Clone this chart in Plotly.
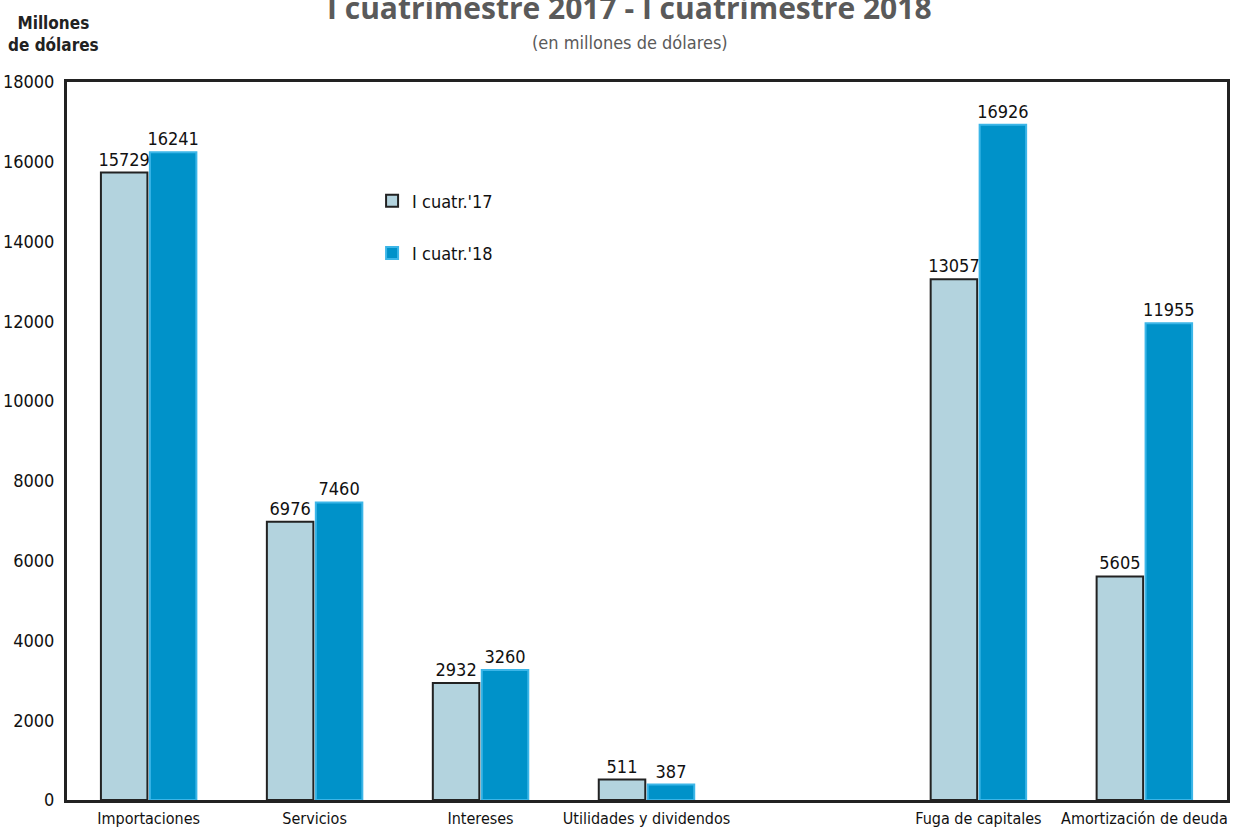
import plotly.graph_objects as go

# Categories (an empty slot separates the two blocks)
positions = [0, 1, 2, 3, 5, 6]
labels = ["Importaciones", "Servicios", "Intereses", "Utilidades y dividendos",
          "Fuga de capitales", "Amortización de deuda"]
cuatr_17 = [15729, 6976, 2932, 511, 13057, 5605]
cuatr_18 = [16241, 7460, 3260, 387, 16926, 11955]
y_ticks = list(range(0, 18001, 2000))

NARROW = "DejaVu Sans Condensed, Liberation Sans Narrow, Roboto, sans-serif"

fig = go.Figure()
fig.add_trace(go.Bar(
    x=positions, y=cuatr_17, name="I cuatr.'17", legendgroup="a",
    marker=dict(color="#b3d3de", line=dict(color="#222222", width=2)),
    text=cuatr_17, textposition="outside", cliponaxis=False, constraintext="none",
    textfont=dict(family=NARROW, size=18, color="#111111"),
))
fig.add_trace(go.Bar(
    x=positions, y=cuatr_18, name="I cuatr.'18", legendgroup="b",
    marker=dict(color="#0092c9", line=dict(color="#3cb6e8", width=2)),
    text=cuatr_18, textposition="outside", cliponaxis=False, constraintext="none",
    textfont=dict(family=NARROW, size=18, color="#111111"),
))

fig.update_layout(
    width=1246, height=829,
    margin=dict(l=67, r=19, t=82, b=29),
    paper_bgcolor="white", plot_bgcolor="white",
    barmode="group", bargap=0.41, bargroupgap=0.05,
    font=dict(family=NARROW, size=18, color="#111111"),
    showlegend=True,
    legend=dict(x=0.263, y=0.86, xanchor="left", yanchor="top",
                bgcolor="rgba(0,0,0,0)", tracegroupgap=26,
                font=dict(family=NARROW, size=18, color="#111111"),
                itemwidth=30),
    xaxis=dict(range=[-0.492, 6.498], tickmode="array", tickvals=positions, ticktext=labels,
               showgrid=False, zeroline=False, showline=True, linecolor="#222222",
               linewidth=3, mirror=True, ticks="", automargin=False, tickangle=0,
               ticklabelstandoff=2, tickfont=dict(family=NARROW, size=16)),
    yaxis=dict(range=[0, 18000], tickmode="array", tickvals=y_ticks,
               ticktext=[str(v) for v in y_ticks],
               showgrid=False, zeroline=False, showline=True, linecolor="#222222",
               linewidth=3, mirror=True, ticks="", ticklabelstandoff=6, automargin=False,
               tickfont=dict(family=NARROW, size=18)),
    annotations=[
        dict(text="I cuatrimestre 2017 - I cuatrimestre 2018", xref="paper", yref="paper",
             x=0.485, y=1.0, yshift=75, xanchor="center", yanchor="middle", showarrow=False,
             font=dict(family="Open Sans, sans-serif", size=30, color="#5a5a5a", weight="bold")),
        dict(text="(en millones de dólares)", xref="paper", yref="paper",
             x=0.485, y=1.0, yshift=40, xanchor="center", yanchor="middle", showarrow=False,
             font=dict(family=NARROW, size=18, color="#5a5a5a")),
        dict(text="<b>Millones<br>de dólares</b>", xref="paper", yref="paper",
             x=-0.012, y=1.0, yshift=48, xanchor="center", yanchor="middle", showarrow=False,
             align="center", font=dict(family=NARROW, size=17, color="#222222")),
    ],
)

fig.write_html("out.html")
